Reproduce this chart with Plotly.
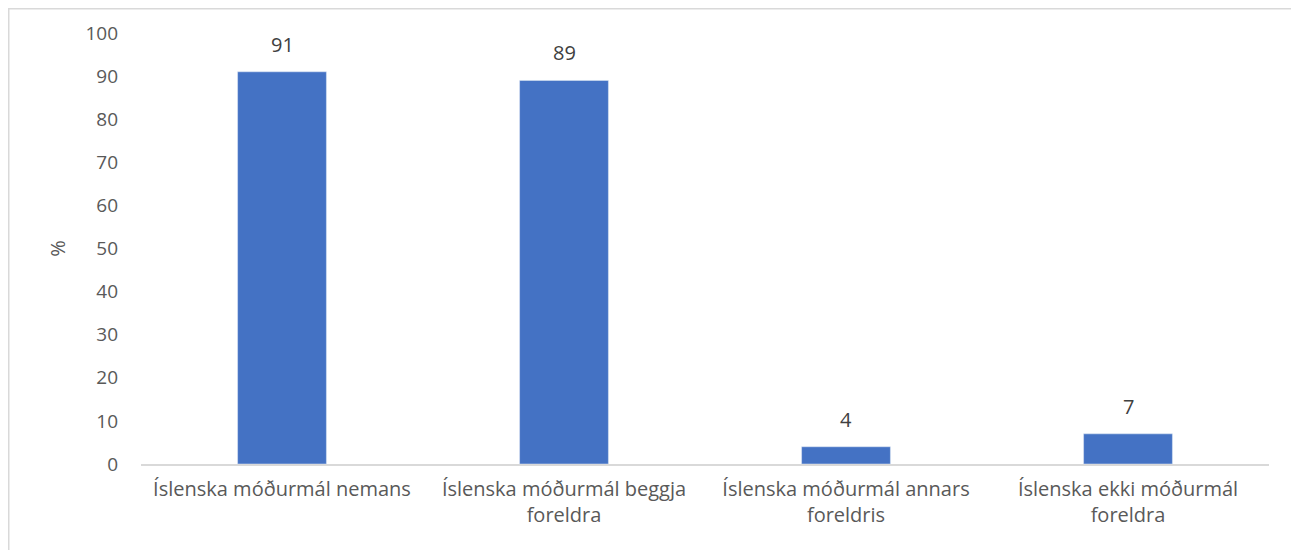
import plotly.graph_objects as go

categories = ["Íslenska móðurmál nemans", "Íslenska móðurmál beggja<br>foreldra",
              "Íslenska móðurmál annars<br>foreldris", "Íslenska ekki móðurmál<br>foreldra"]
values = [91, 89, 4, 7]
y_ticks = list(range(0, 101, 10))

# page body has an 8px offset, so the figure is 8px smaller and shifted
W, H = 1291, 542
L, R, T, B = 133, 30, 25, 86
pw, ph = W - L - R, H - T - B

fig = go.Figure()
fig.add_trace(go.Bar(
    x=categories, y=values,
    marker_color="#4472C4",
    width=0.315,
))

# value labels above bars
for c, v in zip(categories, values):
    fig.add_annotation(x=c, y=v, text=str(v), showarrow=False,
                       yanchor="bottom", yshift=12,
                       font=dict(color="#404040", size=20))

# outer chart frame
fig.add_shape(type="rect", xref="paper", yref="paper",
              x0=(0.75 - L) / pw, x1=(1286 - L) / pw,
              y0=(H - B - 560) / ph, y1=(H - B - 0.75) / ph,
              line=dict(color="#D9D9D9", width=1.5), layer="below")

fig.update_layout(
    width=W, height=H,
    margin=dict(l=L, r=R, t=T, b=B),
    plot_bgcolor="white", paper_bgcolor="white",
    font=dict(family="Open Sans, Noto Sans, sans-serif", size=20, color="#595959"),
    showlegend=False,
    xaxis=dict(showline=True, linecolor="#D9D9D9", linewidth=1.5,
               ticks="", ticklabelstandoff=6, tickfont=dict(size=20, color="#595959")),
    yaxis=dict(range=[0, 100], tickvals=y_ticks, showgrid=False, zeroline=False,
               showline=False, ticks="", ticklabelstandoff=22,
               tickfont=dict(size=19, color="#595959"),
               title=dict(text="%", standoff=14, font=dict(size=20, color="#595959"))),
)

fig.write_html("out.html")
